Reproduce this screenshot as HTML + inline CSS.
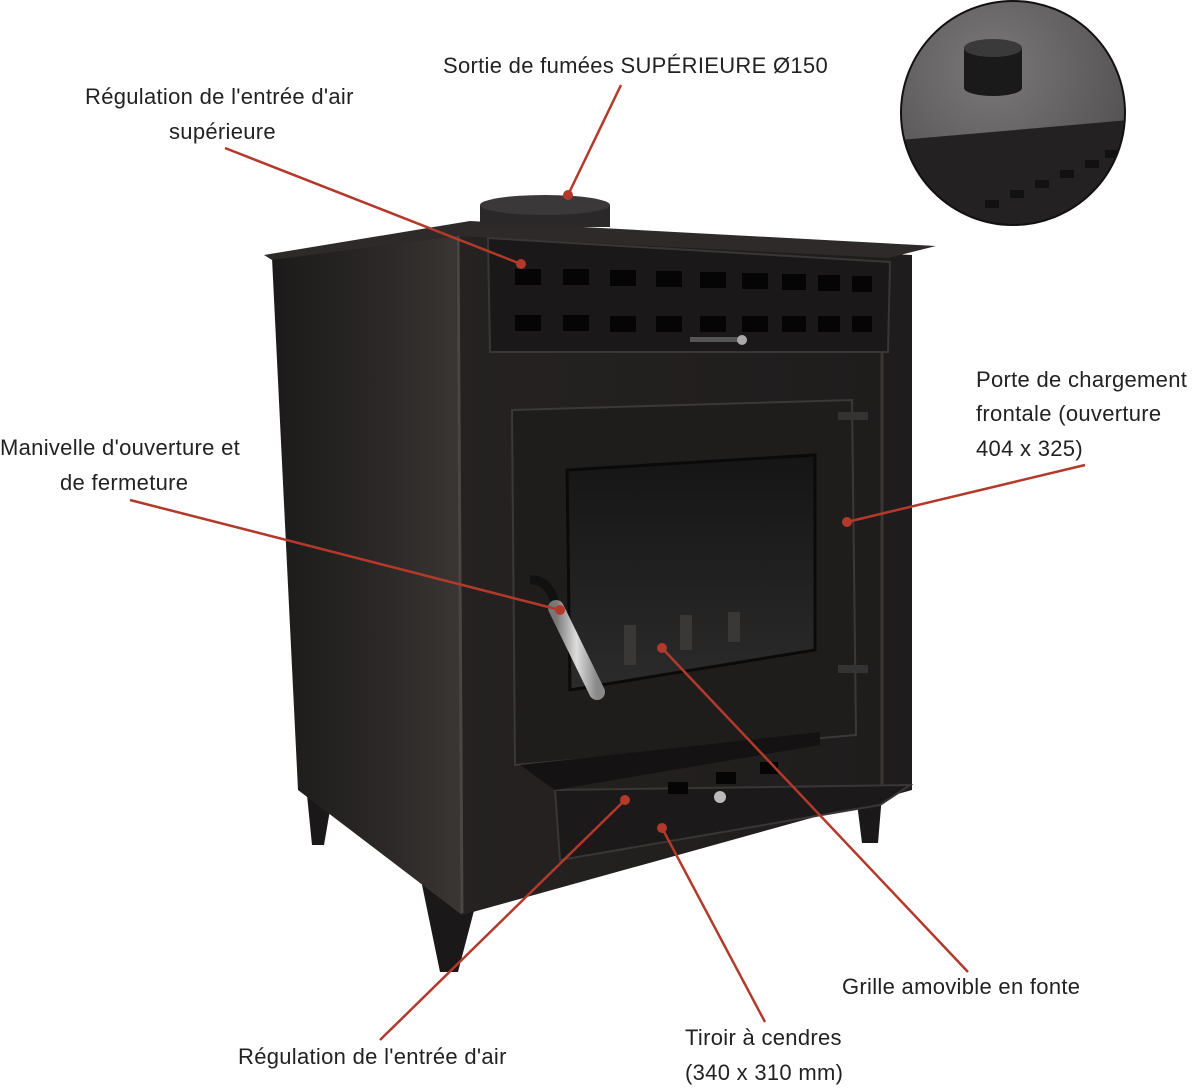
<!DOCTYPE html>
<html><head><meta charset="utf-8"><style>
html,body{margin:0;padding:0;background:#fff;width:1200px;height:1088px;overflow:hidden}
svg{display:block}
text{font-family:"Liberation Sans",sans-serif;font-size:22px;letter-spacing:0.3px;fill:#222}
</style></head><body>
<svg width="1200" height="1088" viewBox="0 0 1200 1088">
<defs>
<linearGradient id="side" x1="0" x2="1"><stop offset="0" stop-color="#1c1a1a"/><stop offset="0.6" stop-color="#2b2827"/><stop offset="1" stop-color="#3a3634"/></linearGradient>
<linearGradient id="front" x1="0" x2="1"><stop offset="0" stop-color="#252221"/><stop offset="1" stop-color="#1e1c1c"/></linearGradient>
<linearGradient id="glass" x1="0" y1="0" x2="0" y2="1"><stop offset="0" stop-color="#151515"/><stop offset="1" stop-color="#2c2b2b"/></linearGradient>
<linearGradient id="steel" x1="0" x2="1"><stop offset="0" stop-color="#777"/><stop offset="0.5" stop-color="#ddd"/><stop offset="1" stop-color="#888"/></linearGradient>
<radialGradient id="inset" cx="0.4" cy="0.3" r="0.8"><stop offset="0" stop-color="#7a7878"/><stop offset="1" stop-color="#4a4848"/></radialGradient>
<clipPath id="cc"><circle cx="1013" cy="113" r="112"/></clipPath>
</defs>

<polygon points="305,775 336,775 324,845 312,845" fill="#1a1818"/>
<polygon points="420,875 482,880 458,972 440,972" fill="#1a1818"/>
<polygon points="856,795 882,795 878,843 862,843" fill="#1a1818"/>

<polygon points="272,258 458,234 462,915 298,790" fill="url(#side)"/>
<polygon points="456,234 912,255 912,790 462,915" fill="url(#front)"/>
<line x1="458" y1="236" x2="462" y2="913" stroke="#4a4644" stroke-width="3"/>
<line x1="882" y1="262" x2="882" y2="790" stroke="#3a3634" stroke-width="3"/>
<polygon points="264,255 470,221 936,246 888,258 458,236 272,260" fill="#2d2a29"/>
<rect x="480" y="205" width="130" height="22" fill="#2a2828"/>
<ellipse cx="545" cy="205" rx="65" ry="10" fill="#3a3838"/>
<polygon points="488,238 890,262 888,352 490,352" fill="#1a1818" stroke="#3a3636" stroke-width="2"/>
<g fill="#050505">
<rect x="515" y="269" width="26" height="16"/><rect x="563" y="269" width="26" height="16"/><rect x="610" y="270" width="26" height="16"/><rect x="656" y="271" width="26" height="16"/><rect x="700" y="272" width="26" height="16"/><rect x="742" y="273" width="26" height="16"/><rect x="782" y="274" width="24" height="16"/><rect x="818" y="275" width="22" height="16"/><rect x="852" y="276" width="20" height="16"/>
<rect x="515" y="315" width="26" height="16"/><rect x="563" y="315" width="26" height="16"/><rect x="610" y="316" width="26" height="16"/><rect x="656" y="316" width="26" height="16"/><rect x="700" y="316" width="26" height="16"/><rect x="742" y="316" width="26" height="16"/><rect x="782" y="316" width="24" height="16"/><rect x="818" y="316" width="22" height="16"/><rect x="852" y="316" width="20" height="16"/>
</g>
<rect x="690" y="337" width="55" height="5" fill="#555"/><circle cx="742" cy="340" r="5" fill="#aaa"/>
<polygon points="512,410 852,400 856,735 515,765" fill="#1f1d1c" stroke="#3c3836" stroke-width="2"/>
<polygon points="567,470 815,455 815,650 570,690" fill="url(#glass)" stroke="#0a0a0a" stroke-width="3"/>
<g fill="#3a3837"><rect x="624" y="625" width="12" height="40"/><rect x="680" y="615" width="12" height="35"/><rect x="728" y="612" width="12" height="30"/></g>
<rect x="838" y="412" width="30" height="8" fill="#333"/><rect x="838" y="665" width="30" height="8" fill="#333"/>
<path d="M530,580 Q548,578 556,605" stroke="#111" stroke-width="9" fill="none"/>
<line x1="556" y1="608" x2="597" y2="692" stroke="url(#steel)" stroke-width="16" stroke-linecap="round"/>
<polygon points="555,790 910,785 880,805 560,860" fill="#1b1919" stroke="#3a3636" stroke-width="2"/>
<polygon points="520,765 820,732 820,745 555,790" fill="#141212"/>
<g fill="#050505"><rect x="668" y="782" width="20" height="12"/><rect x="716" y="772" width="20" height="12"/><rect x="760" y="762" width="18" height="12"/></g>
<circle cx="720" cy="797" r="6" fill="#bbb"/>

<g clip-path="url(#cc)">
<rect x="900" y="0" width="230" height="230" fill="url(#inset)"/>
<polygon points="900,140 1130,120 1130,230 900,230" fill="#232121"/>
<g fill="#111"><rect x="985" y="200" width="14" height="8"/><rect x="1010" y="190" width="14" height="8"/><rect x="1035" y="180" width="14" height="8"/><rect x="1060" y="170" width="14" height="8"/><rect x="1085" y="160" width="14" height="8"/><rect x="1105" y="150" width="12" height="8"/></g>
<rect x="964" y="48" width="58" height="40" fill="#1a1a1a"/>
<ellipse cx="993" cy="48" rx="29" ry="9" fill="#3a3a3a"/>
<ellipse cx="993" cy="88" rx="29" ry="8" fill="#1a1a1a"/>
</g>
<circle cx="1013" cy="113" r="112" fill="none" stroke="#111" stroke-width="2"/>

<g stroke="#b3392b" stroke-width="2.5" fill="none">
<line x1="621" y1="85" x2="568" y2="195"/>
<line x1="225" y1="148" x2="521" y2="264"/>
<line x1="1085" y1="465" x2="847" y2="522"/>
<line x1="130" y1="500" x2="560" y2="610"/>
<line x1="968" y1="972" x2="662" y2="648"/>
<line x1="765" y1="1022" x2="662" y2="828"/>
<line x1="380" y1="1040" x2="625" y2="800"/>
</g>
<g fill="#b3392b">
<circle cx="568" cy="195" r="5"/><circle cx="521" cy="264" r="5"/><circle cx="847" cy="522" r="5"/><circle cx="560" cy="610" r="5"/><circle cx="662" cy="648" r="5"/><circle cx="662" cy="828" r="5"/><circle cx="625" cy="800" r="5"/>
</g>

<text x="443" y="73">Sortie de fumées SUPÉRIEURE Ø150</text>
<text x="85" y="104">Régulation de l'entrée d'air</text>
<text x="169" y="139">supérieure</text>
<text x="976" y="387">Porte de chargement</text>
<text x="976" y="421">frontale (ouverture</text>
<text x="976" y="456">404 x 325)</text>
<text x="0" y="455">Manivelle d'ouverture et</text>
<text x="60" y="490">de fermeture</text>
<text x="842" y="994">Grille amovible en fonte</text>
<text x="685" y="1045">Tiroir à cendres</text>
<text x="685" y="1080">(340 x 310 mm)</text>
<text x="238" y="1064">Régulation de l'entrée d'air</text>
</svg>
</body></html>
